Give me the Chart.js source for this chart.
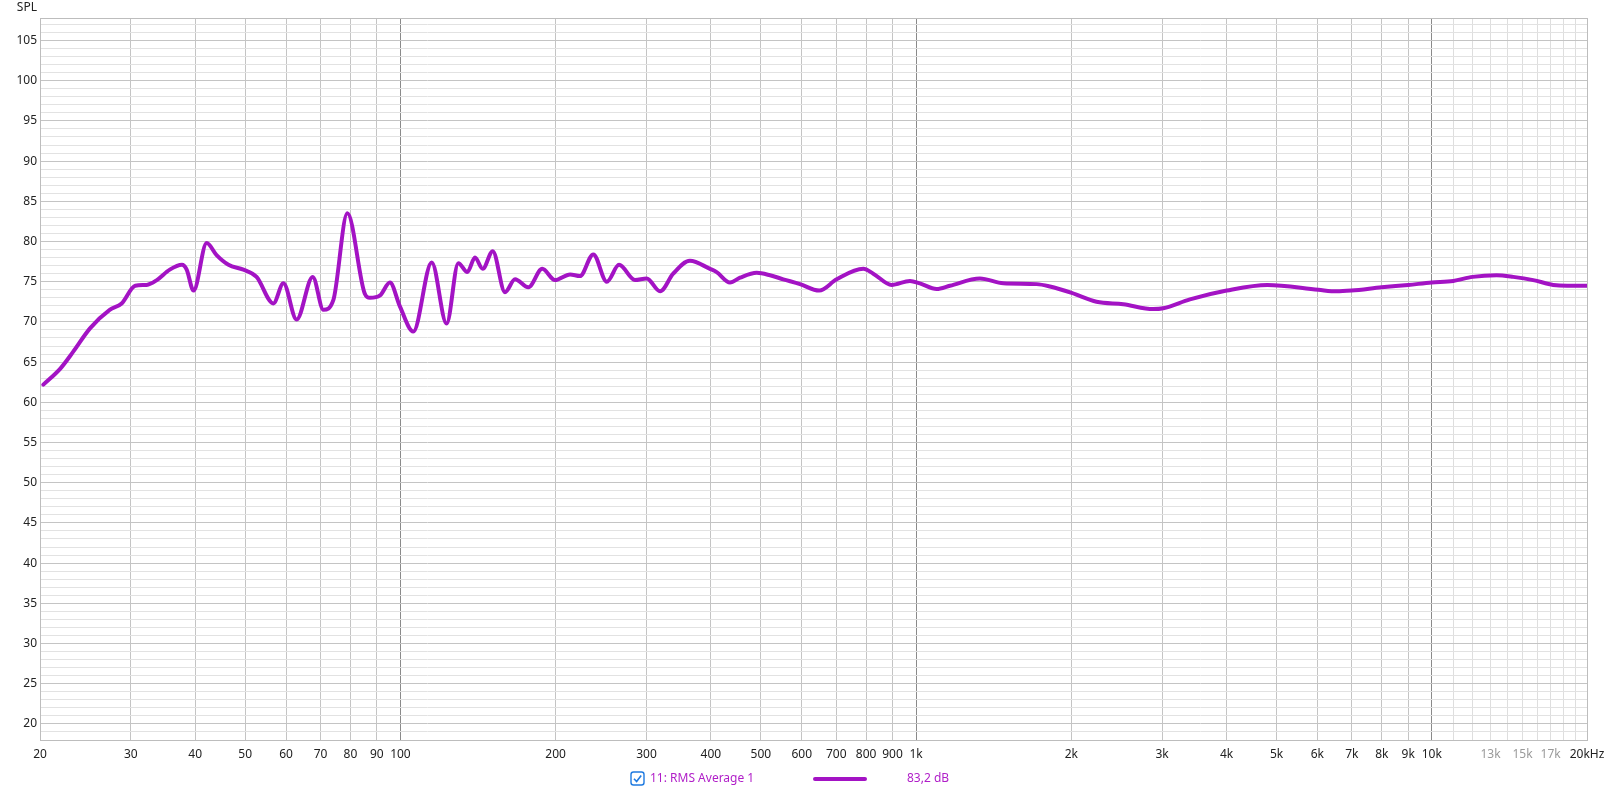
<!DOCTYPE html>
<html>
<head>
<meta charset="utf-8">
<script src="https://cdn.jsdelivr.net/npm/chart.js@4"></script>
<style>
html,body{margin:0;padding:0;background:#fff;}
#wrap{width:1606px;height:791px;position:relative;}
canvas{display:block;}
</style>
</head>
<body>
<div id="wrap"><canvas id="c" width="1606" height="791"></canvas></div>
<script>
const freqs = [20.3,21.9,23.2,25.0,27.3,28.8,30.6,32.2,33.7,35.7,37.7,38.5,39.7,42.1,44.0,46.4,49.6,52.6,56.7,59.3,62.9,67.6,70.9,74.1,78.9,85.3,87.3,91.3,95.4,99.8,105.9,115,122.9,129.5,134.8,139.5,144.4,151,159.5,166.8,177,188.4,199.4,213.3,222.9,236.6,251.3,265.4,285,300.3,318.8,338,364.2,398.4,410.4,435.6,455.6,490.8,520.8,552.6,595.4,648.9,701.4,790,825.9,896.6,972.8,1017,1096,1163,1330,1476,1713,1818,2003,2238,2522,2882,3014,3396,4003,4800,6025,6538,6990,7992,9000,10000,11008,12000,13356,14388,15730,17200,18300,20000];
const spl = [62.2,64.2,66.3,69.2,71.5,72.3,74.5,74.6,75.2,76.5,77.1,76.5,73.9,79.8,78.3,77.1,76.5,75.6,72.3,74.8,70.3,75.6,71.5,72.7,83.5,73.5,73.0,73.3,74.9,71.9,68.8,77.4,69.8,77.3,76.2,78.0,76.6,78.8,73.7,75.3,74.3,76.6,75.2,75.9,75.7,78.4,75.0,77.1,75.2,75.4,73.8,76.0,77.6,76.6,76.2,74.9,75.5,76.1,75.8,75.3,74.7,73.9,75.3,76.6,76.0,74.6,75.1,74.8,74.1,74.5,75.4,74.8,74.7,74.4,73.6,72.5,72.2,71.6,71.7,72.8,73.9,74.6,74.0,73.8,73.9,74.3,74.6,74.9,75.1,75.6,75.8,75.6,75.2,74.6,74.5,74.5];

const xGridValues = [20,30,40,50,60,70,80,90,100,200,300,400,500,600,700,800,900,1000,2000,3000,4000,5000,6000,7000,8000,9000,10000,11000,12000,13000,14000,15000,16000,17000,18000,19000,20000];
const xLabelValues = [20,30,40,50,60,70,80,90,100,200,300,400,500,600,700,800,900,1000,2000,3000,4000,5000,6000,7000,8000,9000,10000,13000,15000,17000,20000];
const xLabelTexts = ['20','30','40','50','60','70','80','90','100','200','300','400','500','600','700','800','900','1k','2k','3k','4k','5k','6k','7k','8k','9k','10k','13k','15k','17k','20kHz'];
const yMin = 18, yMax = 107.8;
const seriesName = '11: RMS Average 1';
const seriesValueText = '83,2 dB';

const lineColor = '#a313c4';
const FONT = '"Noto Sans", "Open Sans", sans-serif';

const yGridValues = [];
for (let v = 18; v <= 107; v++) yGridValues.push(v);

const frame = {
  id: 'frame',
  afterDraw(chart) {
    const {ctx, chartArea: a} = chart;
    ctx.save();
    ctx.strokeStyle = '#bdbdbd';
    ctx.lineWidth = 1;
    ctx.strokeRect(Math.round(a.left) + 0.5, Math.round(a.top) + 0.5, Math.round(a.right - a.left), Math.round(a.bottom - a.top));
    ctx.font = '12px ' + FONT;
    ctx.fillStyle = '#222';
    ctx.textAlign = 'right';
    ctx.textBaseline = 'middle';
    ctx.fillText('SPL', 37, 8);
    const ly = 779;
    ctx.lineWidth = 1.4;
    ctx.strokeStyle = '#1f7ae0';
    ctx.fillStyle = '#fff';
    const bx = 631, by = 772, bs = 13, r = 2.5;
    ctx.beginPath();
    ctx.moveTo(bx + r, by);
    ctx.lineTo(bx + bs - r, by); ctx.quadraticCurveTo(bx + bs, by, bx + bs, by + r);
    ctx.lineTo(bx + bs, by + bs - r); ctx.quadraticCurveTo(bx + bs, by + bs, bx + bs - r, by + bs);
    ctx.lineTo(bx + r, by + bs); ctx.quadraticCurveTo(bx, by + bs, bx, by + bs - r);
    ctx.lineTo(bx, by + r); ctx.quadraticCurveTo(bx, by, bx + r, by);
    ctx.closePath();
    ctx.fill(); ctx.stroke();
    ctx.beginPath();
    ctx.lineWidth = 1.6;
    ctx.moveTo(bx + 3, by + 6.8);
    ctx.lineTo(bx + 5.6, by + 9.6);
    ctx.lineTo(bx + 10.2, by + 3.4);
    ctx.stroke();
    ctx.fillStyle = '#b01ec8';
    ctx.textAlign = 'left';
    ctx.font = '12px ' + FONT;
    ctx.fillText(seriesName, 650, ly);
    ctx.fillText(seriesValueText, 907, ly);
    ctx.strokeStyle = lineColor;
    ctx.lineWidth = 4;
    ctx.lineCap = 'round';
    ctx.beginPath();
    ctx.moveTo(815, ly); ctx.lineTo(865, ly);
    ctx.stroke();
    ctx.restore();
  }
};

const data = freqs.map((f, i) => ({x: f, y: spl[i]}));

new Chart(document.getElementById('c'), {
  type: 'line',
  data: {
    datasets: [{
      label: seriesName,
      data: data,
      borderColor: lineColor,
      borderWidth: 4,
      pointRadius: 0,
      fill: false,
      cubicInterpolationMode: 'monotone',
      borderCapStyle: 'round',
      borderJoinStyle: 'round'
    }]
  },
  options: {
    responsive: false,
    devicePixelRatio: 1,
    animation: false,
    layout: {padding: {top: 18, right: 19, left: 0, bottom: 0}},
    plugins: {legend: {display: false}, tooltip: {enabled: false}},
    scales: {
      x: {
        type: 'logarithmic',
        min: 20, max: 20000,
        afterBuildTicks(scale) { scale.ticks = xGridValues.map(v => ({value: v})); },
        afterFit(scale) { scale.height = 51; scale.paddingLeft = 0; scale.paddingRight = 0; },
        border: {display: true, color: '#bdbdbd'},
        grid: {
          drawTicks: false,
          color(ctx) {
            const v = ctx.tick && ctx.tick.value;
            if (v === 100 || v === 1000 || v === 10000) return '#8a8a8a';
            if (v > 10000) return '#dedede';
            return '#c4c4c4';
          }
        },
        ticks: {
          autoSkip: false, maxRotation: 0, padding: 7,
          font: {family: FONT, size: 12},
          color(ctx) {
            const v = ctx.tick && ctx.tick.value;
            if (v === 13000 || v === 15000 || v === 17000) return '#9a9a9a';
            return '#222';
          },
          callback(value) {
            const i = xLabelValues.indexOf(value);
            return i >= 0 ? xLabelTexts[i] : '';
          }
        }
      },
      y: {
        type: 'linear',
        min: yMin, max: yMax,
        afterBuildTicks(scale) { scale.ticks = yGridValues.map(v => ({value: v})); },
        afterFit(scale) { scale.width = 40; scale.paddingTop = 0; scale.paddingBottom = 0; },
        border: {display: true, color: '#bdbdbd'},
        grid: {
          drawTicks: false,
          color(ctx) {
            const v = ctx.tick && ctx.tick.value;
            return (v % 5 === 0) ? '#c4c4c4' : '#e2e2e2';
          }
        },
        ticks: {
          autoSkip: false, padding: 3,
          font: {family: FONT, size: 12},
          color: '#222',
          callback(value) { return value % 5 === 0 ? String(value) : ''; }
        }
      }
    }
  },
  plugins: [frame]
});
</script>
</body>
</html>
